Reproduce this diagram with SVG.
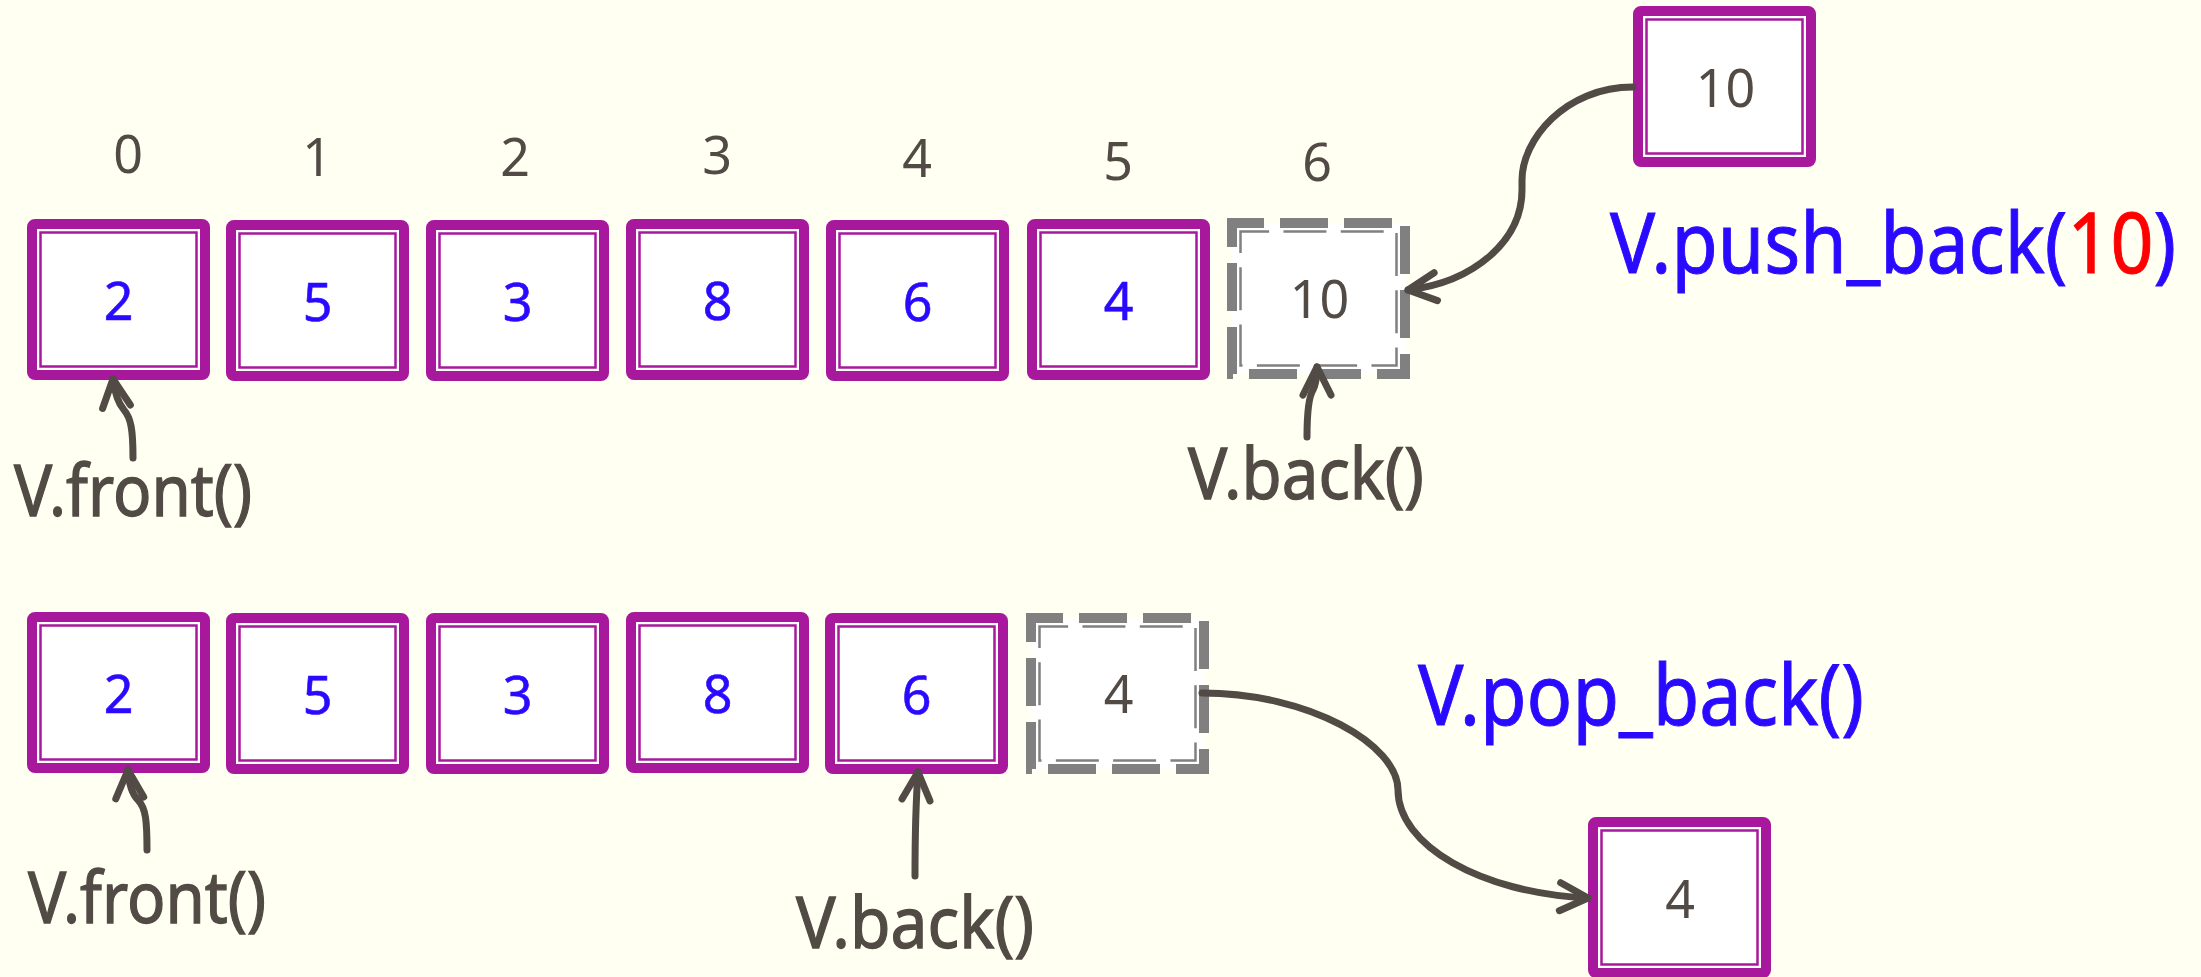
<svg xmlns="http://www.w3.org/2000/svg" xmlns:xlink="http://www.w3.org/1999/xlink" width="2201" height="977" viewBox="0 0 2201 977">
<style>
  .fo { fill:#ffffff; stroke:#a8189c; stroke-width:10; stroke-linejoin:round; }
  .fi { fill:none; stroke:#a8189c; stroke-width:2.5; }
  .go { fill:#ffffff; stroke:#808080; stroke-width:10; stroke-dasharray:48 16; stroke-dashoffset:16; }
  .gi { fill:none; stroke:#808080; stroke-width:2.5; stroke-dasharray:48 16; stroke-dashoffset:16; }
  text { font-family:"Noto Sans","Open Sans","DejaVu Sans",sans-serif; }
  .val { font-size:52px; fill:#2a0aff; stroke:#2a0aff; stroke-width:0.6; text-anchor:middle; }
  .dval { font-size:52px; fill:#514a45; text-anchor:middle; }
  .idx { font-size:52px; fill:#514a45; text-anchor:middle; }
  .lbl { font-size:72px; fill:#514a45; stroke:#514a45; stroke-width:1.3; }
  .cmd { font-size:84px; fill:#2a0aff; stroke:#2a0aff; stroke-width:1; }
  .red { fill:#ff0000; stroke:#ff0000; }
  .conn { fill:none; stroke:#514a45; stroke-width:7; stroke-linecap:round; stroke-linejoin:round; marker-end:url(#arr); }
</style>
<defs>
  <marker id="arr" markerUnits="userSpaceOnUse" viewBox="-40 -24 48 48" markerWidth="48" markerHeight="48" refX="0" refY="0" orient="auto">
    <path d="M-28,-14 L0,0 L-28,14" fill="none" stroke="#514a45" stroke-width="7" stroke-linecap="round" stroke-linejoin="round"/>
  </marker>
  <g id="frame">
    <rect class="fo" x="5" y="5" width="173" height="151" rx="3"/>
    <rect class="fi" x="13.5" y="13.5" width="156" height="134"/>
  </g>
  <g id="ghost">
    <rect class="go" x="5" y="5" width="173" height="151" pathLength="648"/>
    <rect class="gi" x="13.5" y="13.5" width="156" height="134" pathLength="648"/>
  </g>
</defs>
<rect x="0" y="0" width="2201" height="977" fill="#fffff2"/>

<g id="indices">
  <text class="idx" x="128" y="173">0</text>
  <text class="idx" x="317" y="176">1</text>
  <text class="idx" x="515" y="176">2</text>
  <text class="idx" x="717" y="174">3</text>
  <text class="idx" x="917" y="177">4</text>
  <text class="idx" x="1118" y="180">5</text>
  <text class="idx" x="1317" y="181">6</text>
</g>

<g id="top-row">
  <g id="t0" transform="translate(27,219)"><use href="#frame"/><text class="val" x="91.5" y="101">2</text></g>
  <g id="t1" transform="translate(226,220)"><use href="#frame"/><text class="val" x="91.5" y="101">5</text></g>
  <g id="t2" transform="translate(426,220)"><use href="#frame"/><text class="val" x="91.5" y="101">3</text></g>
  <g id="t3" transform="translate(626,219)"><use href="#frame"/><text class="val" x="91.5" y="101">8</text></g>
  <g id="t4" transform="translate(826,220)"><use href="#frame"/><text class="val" x="91.5" y="101">6</text></g>
  <g id="t5" transform="translate(1027,219)"><use href="#frame"/><text class="val" x="91.5" y="101">4</text></g>
  <g id="t6" transform="translate(1227,218)"><use href="#ghost"/><text class="dval" x="92.5" y="100">10</text></g>
</g>

<g id="push-value" transform="translate(1633,6)"><use href="#frame"/><text class="dval" x="92.5" y="101">10</text></g>

<g id="bottom-row">
  <g id="b0" transform="translate(27,612)"><use href="#frame"/><text class="val" x="91.5" y="101">2</text></g>
  <g id="b1" transform="translate(226,613)"><use href="#frame"/><text class="val" x="91.5" y="101">5</text></g>
  <g id="b2" transform="translate(426,613)"><use href="#frame"/><text class="val" x="91.5" y="101">3</text></g>
  <g id="b3" transform="translate(626,612)"><use href="#frame"/><text class="val" x="91.5" y="101">8</text></g>
  <g id="b4" transform="translate(825,613)"><use href="#frame"/><text class="val" x="91.5" y="101">6</text></g>
  <g id="b5" transform="translate(1026,613)"><use href="#ghost"/><text class="dval" x="92.5" y="100">4</text></g>
</g>

<g id="pop-value" transform="translate(1588,817)"><use href="#frame"/><text class="dval" x="92" y="101">4</text></g>

<g id="labels">
  <text class="lbl" x="14" y="516" textLength="238" lengthAdjust="spacingAndGlyphs">V.front()</text>
  <text class="lbl" x="1188" y="499" textLength="236" lengthAdjust="spacingAndGlyphs">V.back()</text>
  <text class="lbl" x="28" y="923" textLength="238" lengthAdjust="spacingAndGlyphs">V.front()</text>
  <text class="lbl" x="796" y="948" textLength="238" lengthAdjust="spacingAndGlyphs">V.back()</text>
  <text class="cmd" x="1610" y="273" textLength="566" lengthAdjust="spacingAndGlyphs">V.push_back(<tspan class="red">10</tspan>)</text>
  <text class="cmd" x="1418" y="725" textLength="446" lengthAdjust="spacingAndGlyphs">V.pop_back()</text>
</g>

<g id="connectors">
  <path class="conn" d="M1633,87 C1565,87 1522,140 1522,180 L1522,190 C1522,240 1475,282 1408,290"/>
  <path class="conn" d="M133,458 C133,430 131,418 124,410 C118,403 115,395 113,379"/>
  <path class="conn" d="M1307,437 C1307,415 1308,398 1313,390 C1316,384 1317,378 1317,367"/>
  <path class="conn" d="M147,850 C147,822 146,808 138,800 C132,794 129,786 128,770"/>
  <path class="conn" d="M915,876 C915,840 916,800 918,772"/>
  <path class="conn" d="M1202,693 C1310,693 1398,745 1398,790 C1398,845 1480,893 1588,898"/>
</g>
</svg>
